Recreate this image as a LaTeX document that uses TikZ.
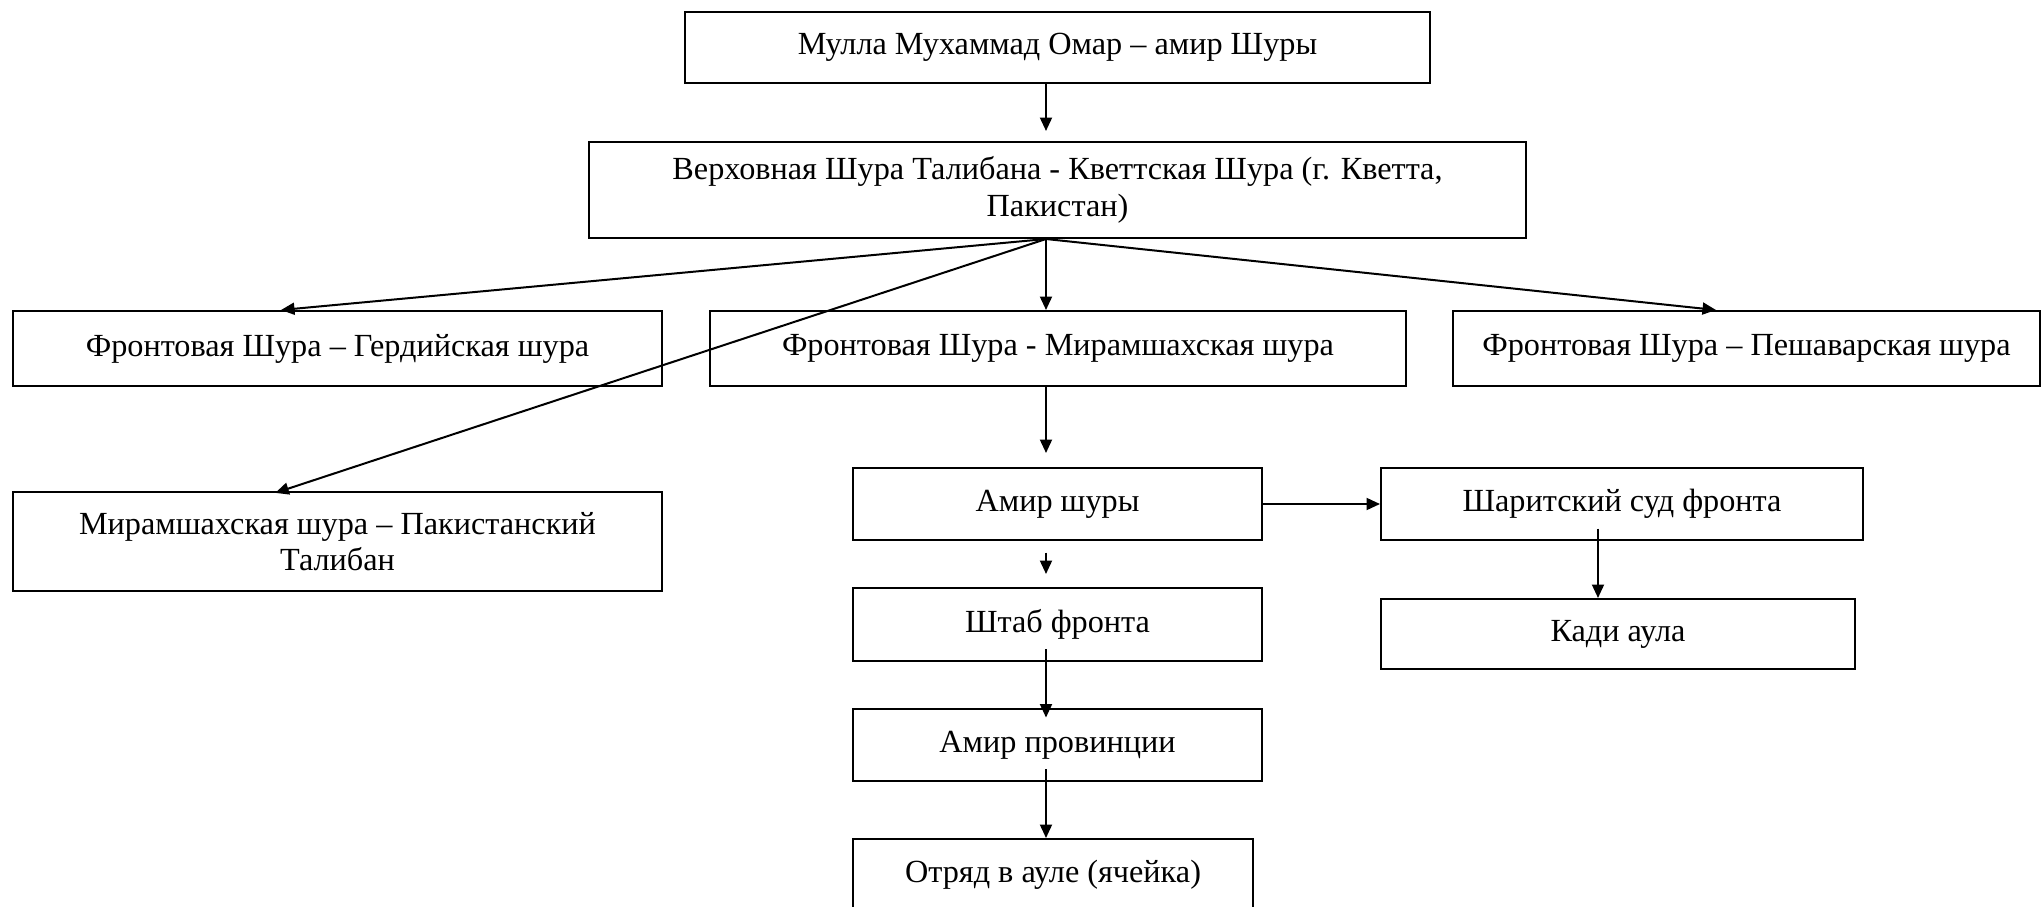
\documentclass[tikz,border=0pt]{standalone}
\usepackage{fontspec}
\setmainfont{Liberation Serif}
\usetikzlibrary{arrows.meta}
\newcommand{\pxu}{0.4pt}
\tikzset{
  orgbox/.style={draw, line width=0.8pt, inner sep=2pt, align=center,
    font=\fontsize{12.9}{14.6}\selectfont},
  link/.style={line width=0.8pt, -{Triangle[length=5.4pt, width=4.8pt]}}
}

\begin{document}
\begin{tikzpicture}[x=\pxu, y=-\pxu]
  \useasboundingbox (0,0) rectangle (2042,907);

  % ── Top of the chart ─────────────────────────────────────────────
  \node[orgbox, minimum width=745*\pxu, minimum height=71*\pxu] (omar) at (1057.5,47.5)
    {Мулла Мухаммад Омар – амир Шуры};
  \node[orgbox, minimum width=937*\pxu, minimum height=96*\pxu] (sup) at (1057.5,190)
    {Верховная Шура Талибана - Кветтская Шура (г. Кветта,\\ Пакистан)};

  % ── Fronts ───────────────────────────────────────────────────────
  \node[orgbox, minimum width=649*\pxu, minimum height=75*\pxu] (gerd) at (337.5,348.5)
    {Фронтовая Шура – Гердийская шура};
  \node[orgbox, minimum width=696*\pxu, minimum height=75*\pxu] (miram) at (1058,348.5)
    {Фронтовая Шура - Мирамшахская шура};
  \node[orgbox, minimum width=587*\pxu, minimum height=75*\pxu] (pesh) at (1746.5,348.5)
    {Фронтовая Шура – Пешаварская шура};
  \node[orgbox, minimum width=649*\pxu, minimum height=99*\pxu] (pak) at (337.5,541.5)
    {Мирамшахская шура – Пакистанский\\ Талибан};

  % ── Inside the front ─────────────────────────────────────────────
  \node[orgbox, minimum width=409*\pxu, minimum height=72*\pxu] (amir) at (1057.5,504)
    {Амир шуры};
  \node[orgbox, minimum width=482*\pxu, minimum height=72*\pxu] (sharia) at (1622,504)
    {Шаритский суд фронта};
  \node[orgbox, minimum width=474*\pxu, minimum height=70*\pxu] (kadi) at (1618,634)
    {Кади аула};
  \node[orgbox, minimum width=409*\pxu, minimum height=73*\pxu] (shtab) at (1057.5,624.5)
    {Штаб фронта};
  \node[orgbox, minimum width=409*\pxu, minimum height=72*\pxu] (prov) at (1057.5,745)
    {Амир провинции};
  \node[orgbox, minimum width=400*\pxu, minimum height=72*\pxu] (otr) at (1053,875)
    {Отряд в ауле (ячейка)};

  % x positions of the arrow lines
  \coordinate (spX) at (1046,0);
  \coordinate (gX)  at (281,0);
  \coordinate (pX)  at (1716,0);
  \coordinate (sX)  at (1598,0);

  \draw[link, shorten >=4pt] (omar.south -| spX) -- (sup.north -| spX);
  \draw[link] (sup.south -| spX) -- (gerd.north -| gX);
  \draw[link] (sup.south -| spX) -- (miram.north -| spX);
  \draw[link] (sup.south -| spX) -- (pesh.north -| pX);
  \draw[link, shorten >=-2.4pt] (sup.south -| spX) -- (pak.north -| gX);

  \draw[link, shorten >=5.6pt] (miram.south -| spX) -- (amir.north -| spX);
  \draw[link] (amir.east) -- (sharia.west);
  \draw[link, shorten <=-5pt] (sharia.south -| sX) -- (kadi.north -| sX);
  \draw[link, shorten <=4.6pt, shorten >=5.2pt] (amir.south -| spX) -- (shtab.north -| spX);
  \draw[link, shorten <=-5.2pt, shorten >=-3.8pt] (shtab.south -| spX) -- (prov.north -| spX);
  \draw[link, shorten <=-5.2pt] (prov.south -| spX) -- (otr.north -| spX);
\end{tikzpicture}
\end{document}
